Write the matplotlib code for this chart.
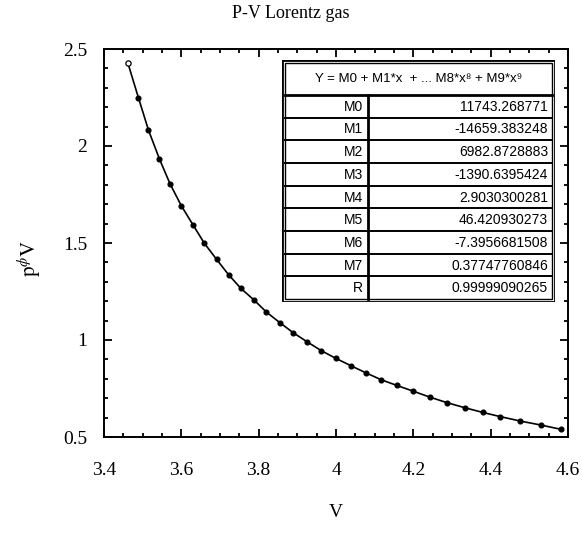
import numpy as np
import matplotlib
matplotlib.use("Agg")
import matplotlib.pyplot as plt
from matplotlib.ticker import MultipleLocator

plt.rcParams['font.family'] = ['Liberation Serif', 'DejaVu Serif']
plt.rcParams['mathtext.fontset'] = 'stix'

# data
V = [3.462, 3.489, 3.515, 3.543, 3.571, 3.600, 3.630, 3.659, 3.691, 3.722,
     3.754, 3.788, 3.820, 3.855, 3.889, 3.925, 3.962, 3.999, 4.038, 4.077,
     4.117, 4.157, 4.200, 4.242, 4.287, 4.333, 4.379, 4.425, 4.477, 4.529, 4.581]
pV = [2.426, 2.249, 2.082, 1.935, 1.804, 1.692, 1.594, 1.500, 1.416, 1.337,
      1.266, 1.206, 1.144, 1.089, 1.038, 0.991, 0.945, 0.906, 0.868, 0.831,
      0.795, 0.766, 0.736, 0.706, 0.677, 0.651, 0.627, 0.605, 0.582, 0.562, 0.540]

x_ticks = [3.4, 3.6, 3.8, 4.0, 4.2, 4.4, 4.6]
x_tick_labels = ['3.4', '3.6', '3.8', '4', '4.2', '4.4', '4.6']
y_ticks = [0.5, 1.0, 1.5, 2.0, 2.5]
y_tick_labels = ['0.5', '1', '1.5', '2', '2.5']

table_header = 'Y = M0 + M1*x  + ... M8*x\u2078 + M9*x\u2079'
table_names = ['M0', 'M1', 'M2', 'M3', 'M4', 'M5', 'M6', 'M7', 'R']
table_values = ['11743.268771', '-14659.383248', '6982.8728883', '-1390.6395424',
                '2.9030300281', '46.420930273', '-7.3956681508', '0.37747760846',
                '0.99999090265']

W, H = 582, 543
fig = plt.figure(figsize=(W / 100, H / 100), dpi=100)
ax = fig.add_axes([104 / W, 1 - 437 / H, (568 - 104) / W, (437 - 49) / H])

ax.plot(V, pV, color='black', lw=1.2, zorder=2)
ax.plot(V[1:], pV[1:], 'o', color='black', ms=3.4, zorder=3)
ax.plot(V[:1], pV[:1], 'o', mfc='white', mec='black', ms=3.8, mew=0.9, zorder=3)

ax.set_xlim(3.4, 4.6)
ax.set_ylim(0.5, 2.5)
ax.set_xticks(x_ticks)
ax.set_xticklabels(x_tick_labels)
ax.set_yticks(y_ticks)
ax.set_yticklabels(y_tick_labels)
ax.xaxis.set_minor_locator(MultipleLocator(0.05))
ax.yaxis.set_minor_locator(MultipleLocator(0.1))
ax.tick_params(which='both', direction='in', top=True, right=True, width=1.3,
               labelsize=14)
ax.tick_params(which='major', length=6)
ax.tick_params(axis='x', which='major', pad=18)
ax.tick_params(axis='y', which='major', pad=12)
ax.tick_params(which='minor', length=3)
for s in ax.spines.values():
    s.set_linewidth(1.4)

ax.set_xlabel('V', fontsize=14, labelpad=18)
ax.set_ylabel(r'$\mathrm{p}^{\phi}\mathrm{V}$', fontsize=15, labelpad=6)
ax.yaxis.set_label_coords(-0.13, 0.46)
fig.text(0.5, 1 - 14 / H, 'P-V Lorentz gas', ha='center', va='center', fontsize=13)

# fit table drawn as an inset
tx0, tx1, ty0, ty1 = 282, 555, 60, 302
tax = fig.add_axes([tx0 / W, 1 - ty1 / H, (tx1 - tx0) / W, (ty1 - ty0) / H])
tw, th = tx1 - tx0, ty1 - ty0
tax.set_xlim(0, tw)
tax.set_ylim(th, 0)
tax.axis('off')
tax.add_patch(plt.Rectangle((0, 0), tw, th, facecolor='white', edgecolor='black',
                            lw=2.0, zorder=1))
tax.add_patch(plt.Rectangle((3, 3), tw - 6, th - 6, facecolor='none', edgecolor='black',
                            lw=1.0, zorder=2))
hdr = 35
rowh = (th - hdr - 3) / len(table_names)
colx = 86
tax.plot([3, tw - 3], [hdr, hdr], color='black', lw=2.0)
tax.plot([colx, colx], [hdr, th - 3], color='black', lw=2.0)
sans = ['Liberation Sans', 'DejaVu Sans']
tax.text(tw / 2, hdr / 2 + 2, table_header, ha='center', va='center', fontsize=9.5,
         family=sans)
for i, (n, v) in enumerate(zip(table_names, table_values)):
    y0 = hdr + i * rowh
    if i > 0:
        tax.plot([3, tw - 3], [y0, y0], color='black', lw=1.4)
    tax.text(colx - 5, y0 + rowh / 2 + 0.5, n, ha='right', va='center', fontsize=10,
             family=sans)
    tax.text(tw - 7, y0 + rowh / 2 + 0.5, v, ha='right', va='center', fontsize=10,
             family=sans)

fig.savefig('out.png', dpi=100)
